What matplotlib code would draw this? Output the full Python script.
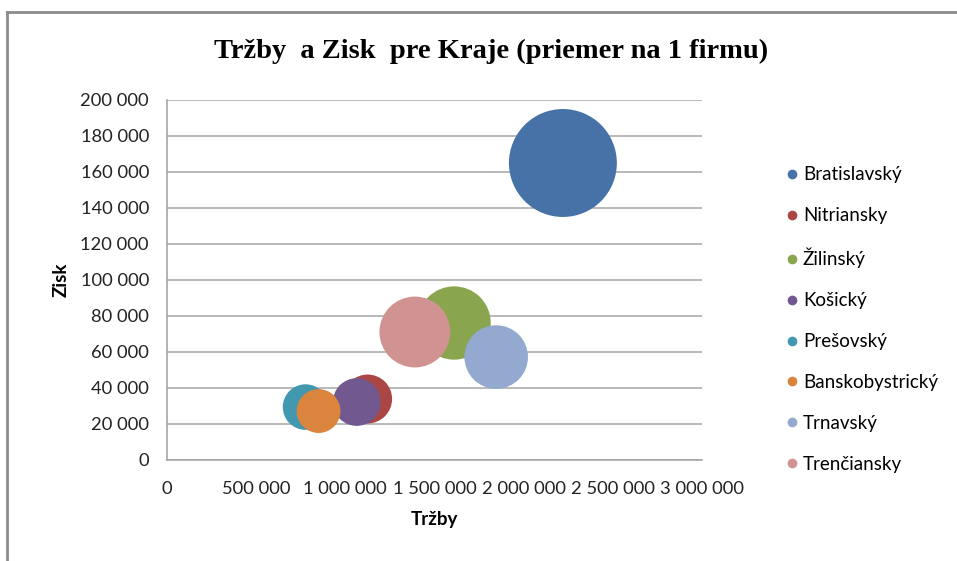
import matplotlib
matplotlib.use("Agg")
import matplotlib.pyplot as plt
from matplotlib.lines import Line2D
from matplotlib.ticker import FuncFormatter, MultipleLocator

# Dáta (odčítané z grafu)
kraje = ["Bratislavský", "Nitriansky", "Žilinský", "Košický",
         "Prešovský", "Banskobystrický", "Trnavský", "Trenčiansky"]
trzby = [2220000, 1125000, 1610000, 1064000, 777000, 850000, 1846000, 1390000]
zisk = [165000, 33900, 76100, 32200, 29400, 27200, 57200, 71100]
farby = ["#4672A8", "#AA4643", "#89A54E", "#71588F",
         "#4198AF", "#DB843D", "#93A9CF", "#D19392"]

W, H = 957, 561
fig = plt.figure(figsize=(W / 100, H / 100), dpi=100)
ax = fig.add_axes([167 / W, 1 - 460 / H, (702 - 167) / W, (460 - 100) / H])

# velkost bubliny ~ zisk (plocha)
mierka = 0.0366
for i in range(len(kraje)):
    ax.scatter(trzby[i], zisk[i], s=zisk[i] * mierka, color=farby[i],
               edgecolors="none", zorder=3 + i, label=kraje[i])

ax.set_xlim(0, 3000000)
ax.set_ylim(0, 200000)
ax.xaxis.set_major_locator(MultipleLocator(500000))
ax.yaxis.set_major_locator(MultipleLocator(20000))
fmt = FuncFormatter(lambda v, p: f"{int(round(v)):,}".replace(",", " "))
ax.xaxis.set_major_formatter(fmt)
ax.yaxis.set_major_formatter(fmt)

ax.grid(axis="y", color="#A6A6A6", linewidth=1.1, zorder=0)
ax.set_axisbelow(True)
for s in ["top", "right"]:
    ax.spines[s].set_visible(False)
for s in ["left", "bottom"]:
    ax.spines[s].set_color("#A0A0A0")
    ax.spines[s].set_linewidth(1.1)
ax.tick_params(axis="both", length=0, labelsize=13.2, colors="#222222")
ax.tick_params(axis="y", pad=13)
ax.tick_params(axis="x", pad=15)
for lab in ax.get_xticklabels() + ax.get_yticklabels():
    lab.set_fontfamily("Lato")

ax.set_xlabel("Tržby", fontfamily="Lato", fontweight="bold", fontsize=13.5, labelpad=10)
ax.set_ylabel("Zisk", fontfamily="Lato", fontweight="bold", fontsize=13.5, labelpad=8)

fig.text(491 / W, 1 - 51 / H, "Tržby  a Zisk  pre Kraje (priemer na 1 firmu)",
         ha="center", va="center", fontfamily="Liberation Serif",
         fontweight="bold", fontsize=20.5)

handles = [Line2D([], [], marker="o", linestyle="none", markersize=7,
                  markerfacecolor=c, markeredgecolor="none") for c in farby]
fig.legend(handles, kraje, loc="upper left", bbox_to_anchor=(772 / W, 1 - 157 / H),
           frameon=False, prop={"family": "Lato", "size": 13.5},
           labelspacing=1.27, handletextpad=0.05, handlelength=1.1, borderpad=0)

# rám grafu
fig.add_artist(Line2D([7 / W, 7 / W], [0, 1 - 12 / H], color="#8C8C8C", linewidth=2))
fig.add_artist(Line2D([7 / W, 1], [1 - 12 / H, 1 - 12 / H], color="#8C8C8C", linewidth=2))

fig.savefig("out.png", dpi=100)
